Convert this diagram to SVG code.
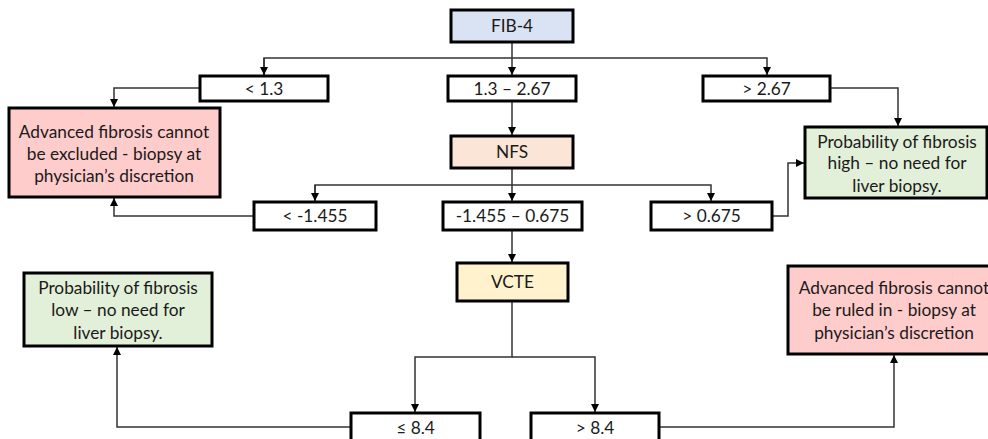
<svg xmlns="http://www.w3.org/2000/svg" width="988" height="439" viewBox="0 0 988 439">
<style>
.b{stroke:#000;stroke-width:3}
.w{fill:#fff}
.t{font-family:Lato,"Liberation Sans",sans-serif;font-size:17.3px;fill:#1a1a1a;text-anchor:middle}
.c{fill:none;stroke:#333;stroke-width:1.5}
</style>
<defs>
<marker id="a" viewBox="0 0 10 10" refX="10" refY="5" markerWidth="8" markerHeight="8" markerUnits="userSpaceOnUse" orient="auto">
<path d="M0,0L10,5L0,10z" fill="#000"/>
</marker>
</defs>
<rect width="988" height="439" fill="#fff"/>
<g id="connectors">
<path class="c" d="M512,42V75" marker-end="url(#a)"/>
<path class="c" d="M264,75V58H767V75" marker-end="url(#a)"/>
<path class="c" d="M264,58V75" marker-end="url(#a)"/>
<path class="c" d="M200,88H114V107" marker-end="url(#a)"/>
<path class="c" d="M830,88H898V126" marker-end="url(#a)"/>
<path class="c" d="M512,101V135" marker-end="url(#a)"/>
<path class="c" d="M512,168V201" marker-end="url(#a)"/>
<path class="c" d="M315,201V185H711V201" marker-end="url(#a)"/>
<path class="c" d="M315,185V201" marker-end="url(#a)"/>
<path class="c" d="M254,216H114V198" marker-end="url(#a)"/>
<path class="c" d="M772,216H788V163H804" marker-end="url(#a)"/>
<path class="c" d="M512,230V262" marker-end="url(#a)"/>
<path class="c" d="M512,301V357H415V412" marker-end="url(#a)"/>
<path class="c" d="M512,357H595V412" marker-end="url(#a)"/>
<path class="c" d="M351,427H117V347" marker-end="url(#a)"/>
<path class="c" d="M659,427H894V355" marker-end="url(#a)"/>
</g>
<g id="fib4"><rect class="b" x="451" y="10" width="122" height="32" fill="#dae3f3"/><text class="t" x="512" y="32">FIB-4</text></g>
<g id="lt13"><rect class="b w" x="200" y="76" width="128" height="25"/><text class="t" x="264" y="95">&lt; 1.3</text></g>
<g id="mid13"><rect class="b w" x="448" y="76" width="128" height="25"/><text class="t" x="512" y="95">1.3 – 2.67</text></g>
<g id="gt267"><rect class="b w" x="703" y="76" width="127" height="25"/><text class="t" x="766.5" y="95">&gt; 2.67</text></g>
<g id="red1"><rect class="b" x="9" y="108" width="211" height="89" fill="#ffcccc"/>
<text class="t" x="114" y="138">Advanced fibrosis cannot</text><text class="t" x="114" y="160">be excluded - biopsy at</text><text class="t" x="114" y="182">physician’s discretion</text></g>
<g id="green1"><rect class="b" x="805" y="127" width="182" height="71" fill="#e2efd9"/>
<text class="t" x="897" y="148">Probability of fibrosis</text><text class="t" x="897" y="169">high – no need for</text><text class="t" x="897" y="192">liver biopsy.</text></g>
<g id="nfs"><rect class="b" x="451" y="136" width="122" height="32" fill="#fbe5d6"/><text class="t" x="512" y="158">NFS</text></g>
<g id="ltn"><rect class="b w" x="254" y="202" width="122" height="28"/><text class="t" x="315" y="222">&lt; -1.455</text></g>
<g id="midn"><rect class="b w" x="443" y="202" width="139" height="28"/><text class="t" x="512.5" y="222">-1.455 – 0.675</text></g>
<g id="gtn"><rect class="b w" x="651" y="202" width="121" height="28"/><text class="t" x="711.5" y="222">&gt; 0.675</text></g>
<g id="vcte"><rect class="b" x="457" y="263" width="111" height="38" fill="#fff2cc"/><text class="t" x="512.5" y="288">VCTE</text></g>
<g id="green2"><rect class="b" x="24" y="273" width="188" height="73" fill="#e2efd9"/>
<text class="t" x="118" y="294">Probability of fibrosis</text><text class="t" x="118" y="316">low – no need for</text><text class="t" x="118" y="339">liver biopsy.</text></g>
<g id="red2"><rect class="b" x="788" y="266" width="212" height="88" fill="#ffcccc"/>
<text class="t" x="894" y="294">Advanced fibrosis cannot</text><text class="t" x="894" y="316">be ruled in - biopsy at</text><text class="t" x="894" y="339">physician’s discretion</text></g>
<g id="le84"><rect class="b w" x="351" y="413" width="129" height="32"/><text class="t" x="415.5" y="434">≤ 8.4</text></g>
<g id="gt84"><rect class="b w" x="531" y="413" width="128" height="32"/><text class="t" x="595" y="434">&gt; 8.4</text></g>
</svg>
